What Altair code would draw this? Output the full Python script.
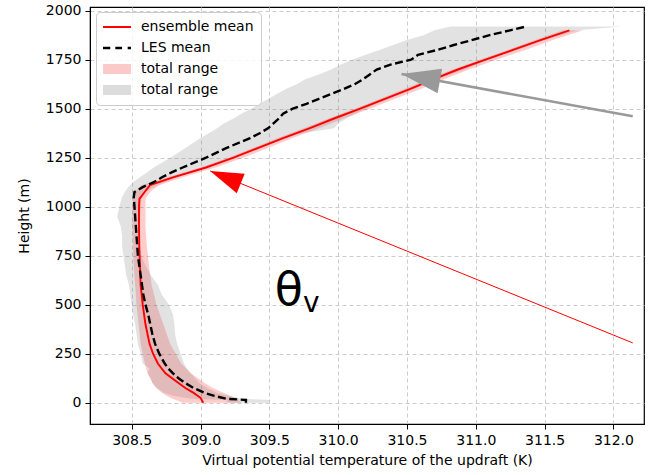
import math
import altair as alt
import pandas as pd

# ---------------------------------------------------------------------------
# Ensemble of single-column runs: mean profile and full spread (min / max)
# ---------------------------------------------------------------------------
ens_height = [0, 25, 50, 75, 100, 150, 200, 250, 300, 400, 500, 600, 700, 800,
              900, 1000, 1040, 1080, 1110, 1150, 1200, 1250, 1300, 1350, 1400,
              1450, 1500, 1550, 1600, 1650, 1700, 1750, 1800, 1850, 1900]
ens_mean = [309.02, 309.00, 308.95, 308.89, 308.84, 308.745, 308.69, 308.655,
            308.63, 308.60, 308.58, 308.565, 308.56, 308.555, 308.553, 308.553,
            308.556, 308.60, 308.633, 308.80, 309.04, 309.24, 309.42, 309.60,
            309.79, 309.97, 310.16, 310.34, 310.52, 310.69, 310.87, 311.07,
            311.27, 311.47, 311.68]
ens_min = [308.87, 308.78, 308.72, 308.68, 308.65, 308.615, 308.595, 308.58,
           308.565, 308.55, 308.535, 308.525, 308.515, 308.51, 308.505, 308.505,
           308.51, 308.53, 308.57, 308.76, 309.00, 309.20, 309.38, 309.56,
           309.75, 309.93, 310.12, 310.30, 310.48, 310.65, 310.83, 311.03,
           311.23, 311.43, 311.63]
ens_max = [309.30, 309.25, 309.17, 309.09, 309.03, 308.93, 308.86, 308.82,
           308.78, 308.73, 308.68, 308.645, 308.625, 308.61, 308.60, 308.60,
           308.60, 308.64, 308.70, 308.87, 309.11, 309.31, 309.49, 309.67,
           309.86, 310.04, 310.23, 310.41, 310.60, 310.77, 310.95, 311.15,
           311.36, 311.56, 311.78]

# ---------------------------------------------------------------------------
# LES reference: mean profile and spread
# ---------------------------------------------------------------------------
les_height = [0, 14, 20, 35, 50, 75, 100, 125, 150, 175,
              200, 250, 300, 350, 400, 450, 500, 550, 600, 650,
              700, 750, 800, 850, 900, 950, 1000, 1050, 1075, 1100,
              1125, 1150, 1175, 1200, 1250, 1300, 1350, 1375, 1400, 1425,
              1450, 1475, 1500, 1525, 1550, 1600, 1625, 1650, 1675, 1700,
              1725, 1750, 1775, 1800, 1825, 1850, 1875, 1900, 1920]
les_mean = [309.33, 309.33, 309.19, 309.10, 309.03, 308.95, 308.89, 308.84, 308.80, 308.765,
            308.74, 308.70, 308.67, 308.65, 308.635, 308.62, 308.60, 308.585, 308.575, 308.565,
            308.555, 308.545, 308.54, 308.535, 308.53, 308.525, 308.52, 308.515, 308.52, 308.58,
            308.66, 308.72, 308.79, 308.87, 309.04, 309.19, 309.36, 309.43, 309.49, 309.53,
            309.57, 309.60, 309.67, 309.77, 309.86, 310.04, 310.12, 310.18, 310.23, 310.28,
            310.38, 310.53, 310.58, 310.72, 310.84, 310.97, 311.10, 311.25, 311.37]
les_min = [309.19, 309.19, 308.93, 308.80, 308.74, 308.68, 308.65, 308.64, 308.615, 308.63,
           308.58, 308.565, 308.545, 308.535, 308.525, 308.51, 308.50, 308.49, 308.48, 308.46,
           308.45, 308.44, 308.43, 308.43, 308.42, 308.395, 308.41, 308.43, 308.45, 308.475,
           308.51, 308.56, 308.61, 308.66, 308.78, 308.89, 309.00, 309.06, 309.12, 309.17,
           309.24, 309.30, 309.37, 309.43, 309.49, 309.62, 309.70, 309.76, 309.86, 309.95,
           310.02, 310.10, 310.20, 310.30, 310.40, 310.50, 310.62, 310.70, 310.82]
les_max = [309.50, 309.50, 309.30, 309.20, 309.12, 309.05, 308.99, 308.96, 308.93, 308.90,
           308.88, 308.855, 308.83, 308.815, 308.81, 308.80, 308.77, 308.72, 308.69, 308.64,
           308.60, 308.57, 308.56, 308.55, 308.55, 308.56, 308.565, 308.575, 308.60, 308.66,
           308.74, 308.82, 308.93, 309.05, 309.24, 309.44, 309.62, 309.74, 309.97, 310.00,
           310.06, 310.13, 310.20, 310.28, 310.37, 310.55, 310.63, 310.72, 310.82, 310.92,
           311.00, 311.10, 311.20, 311.30, 311.40, 311.50, 311.62, 311.74, 312.06]

# Axis ticks
x_ticks = [308.5, 309.0, 309.5, 310.0, 310.5, 311.0, 311.5, 312.0]
y_ticks = [0, 250, 500, 750, 1000, 1250, 1500, 1750, 2000]

# Legend entries
legend_labels = ["ensemble mean", "LES mean", "total range", "total range "]
legend_colors = ["#ff0000", "#000000", "#fbc9c9", "#dcdcdc"]
legend_shapes = [
    "M-1,-0.065H1V0.065H-1Z",
    "M-1,-0.09H-0.48V0.09H-1Z M-0.12,-0.09H0.36V0.09H-0.12Z M0.76,-0.09H1V0.09H0.76Z",
    "M-1,-0.36H1V0.36H-1Z",
    "M-1,-0.36H1V0.36H-1Z",
]

# Annotation arrows (data coordinates: tail -> tip)
arrow_tail_T = [312.14, 312.14]
arrow_tail_H = [305, 1461]
arrow_tip_T = [309.07, 310.46]
arrow_tip_H = [1182, 1677]

# Variable symbol written inside the plot
label_text = ["θ", "v"]
label_T = [309.54, 309.745]
label_H = [498, 464]
label_size = [46, 28]

# ---------------------------------------------------------------------------
FONT = "DejaVu Sans"
W, H = 554, 417
x_dom = [308.197, 312.222]
y_dom = [-108.7, 2018.9]

ens = pd.DataFrame({"H": ens_height, "mean": ens_mean, "lo": ens_min, "hi": ens_max})
les = pd.DataFrame({"H": les_height, "mean": les_mean, "lo": les_min, "hi": les_max})

x_scale = alt.Scale(domain=x_dom, nice=False, zero=False)
y_scale = alt.Scale(domain=y_dom, nice=False, zero=False)
x_axis = alt.Axis(values=x_ticks, format=".1f",
                  title="Virtual potential temperature of the updraft (K)")
y_axis = alt.Axis(values=y_ticks, format="d", title="Height (m)")


def xq(field):
    return alt.X(f"{field}:Q", scale=x_scale, axis=x_axis)


def yq(field):
    return alt.Y(f"{field}:Q", scale=y_scale, axis=y_axis)


ens_band = alt.Chart(ens).mark_area(orient="horizontal", color="#ff0000", opacity=0.2).encode(
    x=xq("lo"), x2="hi:Q", y=yq("H"))
les_band = alt.Chart(les).mark_area(orient="horizontal", color="#808080", opacity=0.23).encode(
    x=xq("lo"), x2="hi:Q", y=yq("H"))
ens_line = alt.Chart(ens).mark_line(color="#ff0000", strokeWidth=1.9).encode(
    x=xq("mean"), y=yq("H"), order="H:Q")
les_line = alt.Chart(les).mark_line(color="#000000", strokeWidth=2.4, strokeDash=[8, 3.5]).encode(
    x=xq("mean"), y=yq("H"), order="H:Q")

# Arrows
sx = W / (x_dom[1] - x_dom[0])
sy = H / (y_dom[1] - y_dom[0])
arrow_colors = ["#ff0000", "#999999"]
arrow_widths = [1.0, 2.6]
head_len = [33, 39]
head_wid = [21, 25]
arrow_layers = []
for i in range(2):
    seg = pd.DataFrame({"T": [arrow_tail_T[i]], "H": [arrow_tail_H[i]],
                        "T2": [arrow_tip_T[i]], "H2": [arrow_tip_H[i]]})
    arrow_layers.append(
        alt.Chart(seg).mark_rule(color=arrow_colors[i], strokeWidth=arrow_widths[i]).encode(
            x=xq("T"), y=yq("H"), x2="T2:Q", y2="H2:Q"))
    dx = (arrow_tip_T[i] - arrow_tail_T[i]) * sx
    dy = -(arrow_tip_H[i] - arrow_tail_H[i]) * sy
    ang = math.degrees(math.atan2(dx, -dy)) % 360
    r = 20.0
    L = head_len[i] / r
    hw = head_wid[i] / 2 / r
    path = f"M0,0L{hw:.3f},{L:.3f}L{-hw:.3f},{L:.3f}Z"
    tip = pd.DataFrame({"T": [arrow_tip_T[i]], "H": [arrow_tip_H[i]]})
    arrow_layers.append(
        alt.Chart(tip).mark_point(shape=path, size=(2 * r) ** 2, angle=ang, filled=True,
                                  color=arrow_colors[i], opacity=1, strokeWidth=0).encode(
            x=xq("T"), y=yq("H")))

labels = pd.DataFrame({"text": label_text, "T": label_T, "H": label_H, "size": label_size})
label_layer = alt.Chart(labels).mark_text(align="left", baseline="alphabetic", font=FONT,
                                          color="#000000").encode(
    x=xq("T"), y=yq("H"), text="text:N", size=alt.Size("size:Q", scale=None))

# Legend driven by an empty point layer
legend_df = pd.DataFrame({"series": legend_labels, "T": [x_ticks[0]] * 4, "H": [0] * 4})
legend = alt.Legend(orient="none", legendX=6, legendY=5, title=None,
                    labelFont=FONT, labelFontSize=14, labelColor="#000000",
                    symbolSize=784, symbolStrokeWidth=0, labelOffset=10,
                    padding=7, rowPadding=5, clipHeight=16,
                    strokeColor="#cccccc", fillColor="rgba(255,255,255,0.8)",
                    cornerRadius=4)
legend_layer = alt.Chart(legend_df).transform_filter("false").mark_point(
    filled=True, opacity=1).encode(
    x=xq("T"), y=yq("H"),
    color=alt.Color("series:N", scale=alt.Scale(domain=legend_labels, range=legend_colors),
                    legend=legend),
    shape=alt.Shape("series:N", scale=alt.Scale(domain=legend_labels, range=legend_shapes),
                    legend=legend))

chart = alt.layer(ens_band, les_band, ens_line, les_line, *arrow_layers, label_layer,
                  legend_layer).properties(
    width=W, height=H,
    autosize=alt.AutoSizeParams(type="none"),
    padding={"left": 90, "top": 7, "right": 7, "bottom": 51},
    background="white",
).configure_view(stroke="#000000", strokeWidth=1.2).configure_axis(
    labelFont=FONT, titleFont=FONT, labelFontSize=14, titleFontSize=14,
    titleFontWeight="normal", labelColor="#000000", titleColor="#000000",
    domainColor="#000000", tickColor="#000000", tickSize=5, labelPadding=4,
    gridColor="#cccccc", gridDash=[4, 3], gridWidth=1,
).configure_axisX(titlePadding=6).configure_axisY(titlePadding=14)

chart.save("out.html", embed_options={"renderer": "svg", "actions": False})
